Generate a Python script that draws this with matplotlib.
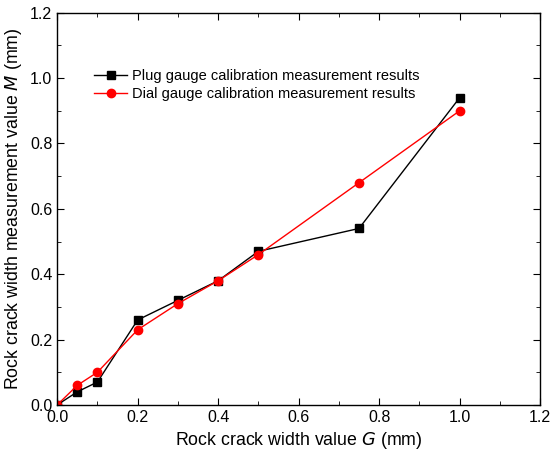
import matplotlib
matplotlib.use('Agg')
import matplotlib.pyplot as plt
from matplotlib.ticker import MultipleLocator

plt.rcParams['font.family'] = ['Liberation Sans', 'DejaVu Sans']

# crack width G (mm) and the two sets of measured values M (mm)
width_g = [0.0, 0.05, 0.1, 0.2, 0.3, 0.4, 0.5, 0.75, 1.0]
plug_m = [0.0, 0.04, 0.07, 0.26, 0.32, 0.38, 0.47, 0.54, 0.94]
dial_m = [0.0, 0.06, 0.10, 0.23, 0.31, 0.38, 0.46, 0.68, 0.90]

fig = plt.figure(figsize=(5.5, 4.57), dpi=100)
ax = fig.add_axes([0.104, 0.114, 0.878, 0.858])

ax.plot(width_g, plug_m, color='black', marker='s', markersize=5.5, linewidth=1,
        label='Plug gauge calibration measurement results')
ax.plot(width_g, dial_m, color='red', marker='o', markersize=6, linewidth=1,
        label='Dial gauge calibration measurement results')

ax.set_xlim(0, 1.2)
ax.set_ylim(0, 1.2)
ax.xaxis.set_major_locator(MultipleLocator(0.2))
ax.yaxis.set_major_locator(MultipleLocator(0.2))
ax.xaxis.set_minor_locator(MultipleLocator(0.1))
ax.yaxis.set_minor_locator(MultipleLocator(0.1))
ax.xaxis.set_major_formatter(plt.FormatStrFormatter('%.1f'))
ax.yaxis.set_major_formatter(plt.FormatStrFormatter('%.1f'))
ax.tick_params(which='both', direction='in', top=True, right=True, labelsize=11.5)
ax.tick_params(which='major', length=5)
ax.tick_params(which='minor', length=3)
for s in ax.spines.values():
    s.set_linewidth(1)

# keep the last x label inside the figure edge
fig.canvas.draw()
ax.get_xticklabels()[-1].set_horizontalalignment('right')

ax.set_xlabel('Rock crack width value $\\mathit{G}$ (mm)', fontsize=12.8)
ax.set_ylabel('Rock crack width measurement value $\\mathit{M}$ (mm)', fontsize=12.8)

ax.legend(loc='upper left', bbox_to_anchor=(0.05, 0.89), frameon=False,
          fontsize=10.5, handlelength=2.2, handletextpad=0.4, labelspacing=0.3)

fig.savefig('out.png', dpi=100)
